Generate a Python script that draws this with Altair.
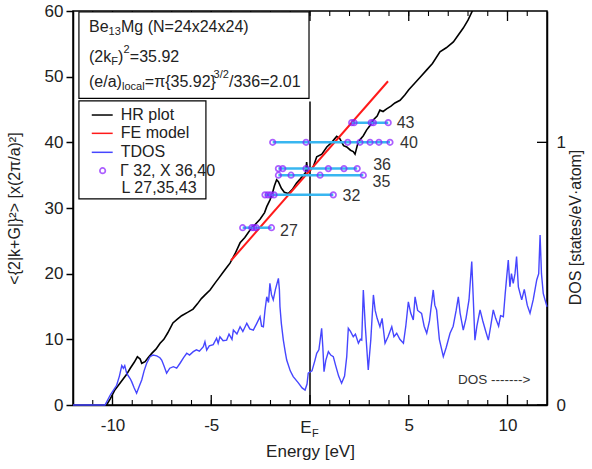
import altair as alt
import pandas as pd

# ---------------- data ----------------
hr_energy = [-10.3, -10.1, -9.9, -9.7, -9.5, -9.3, -9.1, -8.9, -8.74, -8.6, -8.52, -8.35, -8.2, -8.0,
             -7.8, -7.59, -7.4, -7.2, -6.94, -6.7, -6.5, -6.2, -5.92, -5.7, -5.5, -5.3, -5.06, -4.8,
             -4.6, -4.4, -4.2, -4.05, -3.8, -3.54, -3.3, -3.0, -2.8, -2.53, -2.3, -2.19, -2.03, -1.9,
             -1.8, -1.69, -1.6, -1.45, -1.3, -1.1, -0.9, -0.68, -0.5, -0.34, -0.22, -0.17, -0.12,
             -0.05, 0.17, 0.34, 0.6, 0.85, 1.1, 1.35, 1.5, 1.7, 1.86, 2.05, 2.19, 2.28, 2.4, 2.53,
             2.7, 2.87, 3.05, 3.2, 3.4, 3.54, 3.7, 3.88, 4.1, 4.3, 4.56, 4.8, 5.0, 5.3, 5.6, 5.9,
             6.2, 6.58, 6.9, 7.26, 7.5, 7.76, 8.0, 8.25]
hr_value = [0.0, 1.0, 2.2, 3.0, 3.8, 4.6, 5.6, 6.5, 7.35, 7.0, 6.35, 6.6, 7.2, 7.9,
            8.5, 9.4, 10.0, 11.0, 12.5, 13.1, 13.6, 14.1, 14.6, 15.4, 16.2, 16.8, 17.5, 18.6,
            19.4, 20.2, 21.0, 21.6, 23.0, 24.7, 25.5, 26.8, 27.4, 28.3, 29.3, 30.2, 31.2, 32.3,
            33.4, 34.3, 34.0, 33.0, 32.4, 32.2, 32.8, 33.8, 34.4, 35.0, 35.4, 37.0, 35.6,
            35.5, 36.3, 37.8, 38.2, 39.3, 40.0, 40.9, 40.6, 39.5, 39.3, 38.8, 38.6, 38.2, 39.6, 40.4,
            41.0, 41.9, 42.6, 43.4, 44.0, 44.9, 44.7, 45.1, 45.5, 46.0, 46.4, 47.2, 48.0, 49.0, 50.0, 51.0,
            52.0, 53.8, 54.4, 55.3, 56.3, 57.4, 58.6, 60.2]

fe_energy = [-4.0, 3.95]
fe_value = [22.0, 49.3]

dos_energy = [-12.0, -10.38, -10.1, -9.79, -9.65, -9.53, -9.45, -9.38, -9.28, -9.1, -9.03, -8.9, -8.78,
              -8.65, -8.52, -8.4, -8.27, -8.1, -7.95, -7.76, -7.6, -7.51, -7.4, -7.26, -7.1, -6.92,
              -6.75, -6.58, -6.4, -6.24, -6.1, -5.91, -5.75, -5.6, -5.4, -5.32, -5.23, -5.1, -4.9,
              -4.73, -4.65, -4.56, -4.4, -4.22, -4.1, -3.95, -3.88, -3.7, -3.54, -3.4, -3.2, -3.05,
              -2.87, -2.7, -2.53, -2.45, -2.36, -2.28, -2.19, -2.1, -2.03, -1.95, -1.86, -1.75, -1.6,
              -1.55, -1.52, -1.45, -1.35, -1.25, -1.18, -1.0, -0.85, -0.6, -0.4, -0.25, -0.15, -0.09,
              0.1, 0.25, 0.34, 0.45, 0.59, 0.65, 0.71, 0.8, 0.93, 1.05, 1.18, 1.3, 1.45, 1.6, 1.75,
              1.86, 1.94, 2.05, 2.19, 2.3, 2.45, 2.55, 2.62, 2.7, 2.8, 2.95, 3.08, 3.21, 3.3, 3.4,
              3.54, 3.65, 3.8, 3.95, 4.14, 4.25, 4.39, 4.55, 4.73, 4.85, 4.98, 5.1, 5.23, 5.32, 5.45,
              5.65, 5.78, 5.91, 6.05, 6.24, 6.32, 6.41, 6.55, 6.75, 6.9, 7.09, 7.25, 7.4, 7.51, 7.6,
              7.76, 7.9, 8.05, 8.19, 8.27, 8.35, 8.45, 8.61, 8.75, 8.9, 9.03, 9.15, 9.28, 9.4, 9.55,
              9.65, 9.79, 9.88, 9.96, 10.04, 10.12, 10.2, 10.29, 10.38, 10.46, 10.55, 10.72, 10.85,
              11.0, 11.14, 11.3, 11.48, 11.58, 11.65, 11.72, 11.81, 11.9, 12.0]
dos_value = [0.0, 0.0, 0.04, 0.075, 0.11, 0.15, 0.14, 0.15, 0.12, 0.1, 0.089, 0.065, 0.045,
             0.07, 0.095, 0.13, 0.159, 0.184, 0.19, 0.187, 0.18, 0.171, 0.15, 0.121, 0.14, 0.146,
             0.14, 0.159, 0.18, 0.197, 0.19, 0.203, 0.21, 0.205, 0.222, 0.241, 0.209, 0.225, 0.23,
             0.254, 0.235, 0.26, 0.245, 0.247, 0.27, 0.25, 0.285, 0.27, 0.298, 0.28, 0.311, 0.29,
             0.285, 0.31, 0.336, 0.30, 0.298, 0.36, 0.412, 0.39, 0.463, 0.42, 0.40, 0.44, 0.482,
             0.44, 0.374, 0.31, 0.247, 0.2, 0.171, 0.13, 0.108, 0.085, 0.065, 0.057, 0.08, 0.121,
             0.13, 0.17, 0.197, 0.21, 0.292, 0.22, 0.127, 0.17, 0.203, 0.19, 0.184, 0.15, 0.11, 0.083, 0.11,
             0.184, 0.292, 0.28, 0.26, 0.27, 0.235, 0.25, 0.247, 0.438, 0.3, 0.133, 0.25, 0.419, 0.36, 0.33,
             0.298, 0.33, 0.235, 0.26, 0.298, 0.26, 0.273, 0.25, 0.235, 0.3, 0.393, 0.35, 0.324, 0.412, 0.36,
             0.349, 0.3, 0.273, 0.32, 0.438, 0.38, 0.362, 0.25, 0.184, 0.22, 0.273, 0.3, 0.36, 0.412, 0.35,
             0.285, 0.33, 0.4, 0.546, 0.4, 0.247, 0.3, 0.362, 0.32, 0.28, 0.247, 0.3, 0.362, 0.33, 0.3,
             0.34, 0.336, 0.42, 0.488, 0.552, 0.45, 0.5, 0.463, 0.5, 0.565, 0.45, 0.4, 0.44,
             0.38, 0.349, 0.4, 0.476, 0.5, 0.647, 0.5, 0.425, 0.4, 0.374]

# symmetry-point states (energy positions) per <(2|k+G|)^2> level
row_levels = [27, 32, 35, 36, 40, 43]
pts_27 = [-3.41, -2.95, -2.84, -2.72, -1.95]
pts_32 = [-2.28, -2.13, -1.98, -1.82, 1.18]
pts_35 = [-1.6, -0.96, 0.51, 2.7]
pts_36 = [-1.6, -1.38, -0.2, 0.93, 1.72, 2.39]
pts_40 = [-1.89, -0.2, 1.91, 2.53, 3.04, 3.49, 4.05]
pts_43 = [2.11, 2.23, 3.1, 3.21, 3.96]
row_points = [pts_27, pts_32, pts_35, pts_36, pts_40, pts_43]
row_label_text = ["27", "32", "35", "36", "40", "43"]

x_major = [-10, -5, 0, 5, 10]
x_labeled = [-10, -5, 5, 10]
x_minor = list(range(-11, 12))
y_ticks = [0, 10, 20, 30, 40, 50, 60]
dos_ticks = [0, 1]

# ---------------- layout ----------------
W, H = 474, 394
X_DOM, Y_DOM, DOS_DOM = [-12, 12], [0, 60], [0, 1.5]
PX_X = W / (X_DOM[1] - X_DOM[0])
PX_Y = H / (Y_DOM[1] - Y_DOM[0])
FONT = "Liberation Sans"
TXT = "#222222"
BLUE, RED, PURPLE, CYAN = "#4646ff", "#ff1a1a", "#8a1cff", "#38b6f0"

xs = alt.Scale(domain=X_DOM, nice=False, zero=False)
ys = alt.Scale(domain=Y_DOM, nice=False, zero=False)
ds = alt.Scale(domain=DOS_DOM, nice=False, zero=False)

x_axis = alt.Axis(values=x_labeled, format="d", ticks=False, labelPadding=12,
                  title="Energy [eV]", titlePadding=10, grid=False,
                  labelFontSize=17, titleFontSize=17)
y_axis = alt.Axis(values=y_ticks, tickSize=7, tickWidth=1.5, tickColor="black", labelPadding=3,
                  title="<{2|k+G|}²> [x(2π/a)²]", titlePadding=22, grid=False,
                  labelFontSize=17, titleFontSize=16)
dos_axis = alt.Axis(orient="right", values=dos_ticks, ticks=False, labelPadding=9,
                    title="DOS [states/eV·atom]", titleAngle=270, titlePadding=18, titleY=216,
                    grid=False, labelFontSize=17, titleFontSize=16)


def X(f):
    # identical x axis on every layer so that the shared axis merges cleanly
    return alt.X(f, type="quantitative", scale=xs, axis=x_axis)


def Y(f, axis=None):
    return alt.Y(f, type="quantitative", scale=ys, axis=axis)


# HR plot (carries the left y axis)
hr_df = pd.DataFrame({"e": hr_energy, "v": hr_value})
hr = alt.Chart(hr_df).mark_line(color="black", strokeWidth=1.6, clip=True).encode(
    x=X("e"), y=Y("v", y_axis), order="e:Q")

fe_df = pd.DataFrame({"e": fe_energy, "v": fe_value})
fe = alt.Chart(fe_df).mark_line(color=RED, strokeWidth=2).encode(x=X("e"), y=Y("v"))

# TDOS (carries the right axis)
dos_df = pd.DataFrame({"e": dos_energy, "d": dos_value})
dos_line = alt.Chart(dos_df).mark_line(color=BLUE, strokeWidth=1.4).encode(
    x=X("e"), y=alt.Y("d", type="quantitative", scale=ds, axis=dos_axis), order="e:Q")
dos_tk = alt.Chart(pd.DataFrame({"d": dos_ticks})).mark_rule(color="black", strokeWidth=1.3).encode(
    y=alt.Y("d", type="quantitative", scale=ds, axis=None), x=alt.value(W - 10), x2=alt.value(W))

# Fermi level line
ef = alt.Chart(pd.DataFrame({"e": [0], "v0": [0], "v1": [46.2]})).mark_rule(
    color="black", strokeWidth=1.5).encode(x=X("e"), y=Y("v0"), y2="v1")

# inward ticks (bottom and top)
maj_df = pd.DataFrame({"t": x_major})
min_df = pd.DataFrame({"t": x_minor})
tick_layers = [
    alt.Chart(maj_df).mark_rule(color="black", strokeWidth=1.3).encode(
        x=X("t"), y=alt.value(H), y2=alt.value(H - 10)),
    alt.Chart(maj_df).mark_rule(color="black", strokeWidth=1.3).encode(
        x=X("t"), y=alt.value(0), y2=alt.value(10)),
    alt.Chart(min_df).mark_rule(color="black", strokeWidth=1.1).encode(
        x=X("t"), y=alt.value(H), y2=alt.value(H - 5)),
    alt.Chart(min_df).mark_rule(color="black", strokeWidth=1.1).encode(
        x=X("t"), y=alt.value(0), y2=alt.value(5)),
]

# symmetry points
seg_rows, pt_rows = [], []
for lvl, xs_row in zip(row_levels, row_points):
    seg_rows.append({"lvl": lvl, "x0": min(xs_row), "x1": max(xs_row)})
    for xv in xs_row:
        pt_rows.append({"lvl": lvl, "e": xv})
seg = alt.Chart(pd.DataFrame(seg_rows)).mark_rule(color=CYAN, strokeWidth=2.5).encode(
    x=X("x0"), x2="x1", y=Y("lvl"))
pts = alt.Chart(pd.DataFrame(pt_rows)).mark_point(
    shape="circle", filled=False, color=PURPLE, size=30, strokeWidth=1.7).encode(
    x=X("e"), y=Y("lvl"))

label_x = [-1.52, 1.65, 3.17, 3.2, 4.56, 4.39]
label_y = [26.5, 31.8, 34.0, 36.5, 39.9, 43.0]
lab = alt.Chart(pd.DataFrame({"t": row_label_text, "x": label_x, "y": label_y})).mark_text(
    align="left", baseline="middle", fontSize=16, color="#333333", font=FONT).encode(
    x=X("x"), y=Y("y"), text="t:N")

# info box
box = alt.Chart(pd.DataFrame({"x0": [-11.7], "x1": [-0.05], "y0": [46.7], "y1": [59.85]})).mark_rect(
    fill="white", stroke="black", strokeWidth=1.2).encode(x=X("x0"), x2="x1", y=Y("y0"), y2="y1")

x0_txt = (89 - 73) / PX_X + X_DOM[0]
pieces = [
    # text, line y, dx px, dy px, size
    ("Be", 57.6, 0, 0, 16), ("13", 57.6, 19.6, 5, 11), ("Mg (N=24x24x24)", 57.6, 32.0, 0, 16),
    ("(2k", 53.0, 0, 0, 16), ("F", 53.0, 22.2, 5, 11), (")", 53.0, 29.0, 0, 16),
    ("2", 53.0, 34.5, -7, 11), ("=35.92", 53.0, 40.8, 0, 16),
    ("(e/a)", 49.2, 0, 0, 16), ("local", 49.2, 33.0, 5, 11), ("=π{35.92}", 49.2, 55.8, 0, 16),
    ("3/2", 49.2, 124.6, -7, 11), ("/336=2.01", 49.2, 140.0, 0, 16),
]
info_df = pd.DataFrame([{"t": t, "x": x0_txt + dx / PX_X, "y": yl - dy / PX_Y, "s": s}
                        for t, yl, dx, dy, s in pieces])
info = alt.Chart(info_df).mark_text(align="left", baseline="middle", color=TXT, font=FONT).encode(
    x=X("x"), y=Y("y"), text="t:N", size=alt.Size("s:Q", scale=None, legend=None))

# legend
leg_box = alt.Chart(pd.DataFrame({"x0": [-11.7], "x1": [-5.27], "y0": [31.4], "y1": [46.3]})).mark_rect(
    fill="white", stroke="black", strokeWidth=1.2).encode(x=X("x0"), x2="x1", y=Y("y0"), y2="y1")
leg_names = ["HR plot", "FE model", "TDOS"]
leg_colors = ["black", RED, BLUE]
leg_y = [44.16, 41.37, 38.48]
leg_lines = alt.Chart(pd.DataFrame({"n": leg_names, "y": leg_y, "x0": [-11.05] * 3, "x1": [-9.99] * 3})).mark_rule(
    strokeWidth=1.5).encode(x=X("x0"), x2="x1", y=Y("y"),
                           color=alt.Color("n:N", scale=alt.Scale(domain=leg_names, range=leg_colors), legend=None))
leg_pt = alt.Chart(pd.DataFrame({"x": [-10.5], "y": [35.68]})).mark_point(
    shape="circle", filled=False, color=PURPLE, size=30, strokeWidth=1.7).encode(x=X("x"), y=Y("y"))
leg_txt_df = pd.DataFrame({"t": leg_names + ["Γ 32, X 36,40", "L 27,35,43"],
                           "x": [-9.58, -9.58, -9.58, -9.62, -9.54],
                           "y": leg_y + [35.68, 33.0]})
leg_txt = alt.Chart(leg_txt_df).mark_text(align="left", baseline="middle", fontSize=16, color=TXT,
                                          font=FONT).encode(x=X("x"), y=Y("y"), text="t:N")

# E_F tick label (E with subscript F), placed level with the other tick labels
ef_E = alt.Chart(pd.DataFrame({"t": ["E"], "x": [0.08], "y": [-3.45]})).mark_text(
    align="right", baseline="middle", color=TXT, font=FONT, fontSize=17).encode(
    x=X("x"), y=Y("y"), text="t:N")
ef_F = alt.Chart(pd.DataFrame({"t": ["F"], "x": [0.1], "y": [-4.4]})).mark_text(
    align="left", baseline="middle", color=TXT, font=FONT, fontSize=11).encode(
    x=X("x"), y=Y("y"), text="t:N")

dos_note = alt.Chart(pd.DataFrame({"t": ["DOS ------->"], "x": [7.49], "y": [3.8]})).mark_text(
    align="left", baseline="middle", fontSize=13.5, color="#333333", font=FONT).encode(
    x=X("x"), y=Y("y"), text="t:N")

chart = alt.layer(hr, *tick_layers, ef, dos_line, dos_tk, fe, seg, pts, lab, box, info, leg_box,
                  leg_lines, leg_pt, leg_txt, ef_E, ef_F, dos_note).resolve_scale(
    y="independent").properties(
    width=W, height=H,
    padding={"left": 73, "top": 11, "right": 45, "bottom": 64},
    autosize=alt.AutoSizeParams(type="none"),
    background="white",
).configure(
    font=FONT,
    locale={"number": {"decimal": ".", "thousands": ",", "grouping": [3],
                       "currency": ["$", ""], "minus": "-"}},
).configure_axis(
    labelFont=FONT, titleFont=FONT, labelColor=TXT, titleColor=TXT, titleFontWeight="normal",
    domainColor="black", domainWidth=1.5,
).configure_view(stroke="black", strokeWidth=1.5)

chart.save("out.html", embed_options={"renderer": "svg", "actions": False})
